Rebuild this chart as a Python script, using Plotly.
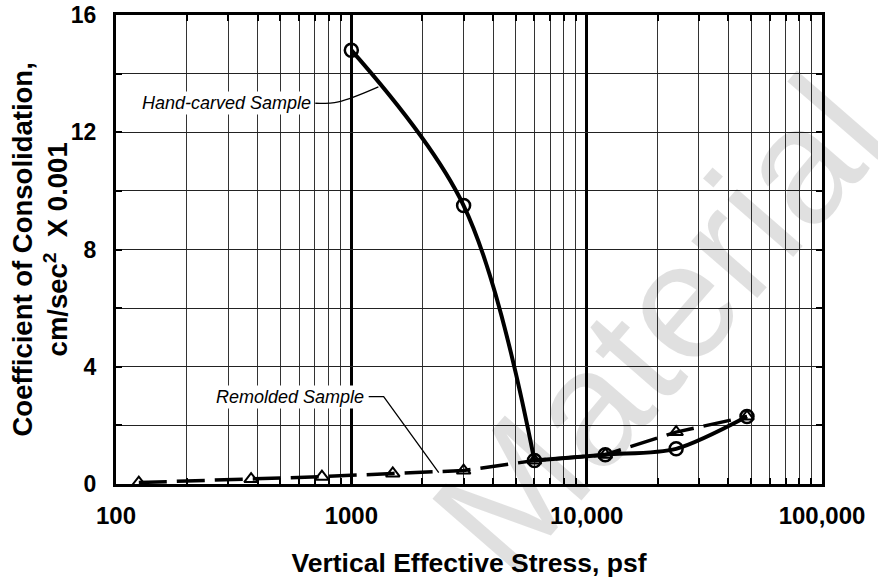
import math
import plotly.graph_objects as go

# ---- data ----
hand_stress = [1000, 3000, 6000, 12000, 24000, 48000]
hand_cv = [14.8, 9.5, 0.8, 1.0, 1.2, 2.3]

remold_stress = [125, 375, 750, 1500, 3000, 6000, 12000, 24000, 48000]
remold_cv = [0.05, 0.17, 0.25, 0.36, 0.46, 0.8, 1.0, 1.77, 2.3]

x_major_vals = [100, 1000, 10000, 100000]
x_major_text = ["100", "1000", "10,000", "100,000"]
x_minor_vals = [m * d for d in (100, 1000, 10000) for m in range(2, 10)]

y_major_vals = [0, 4, 8, 12, 16]
y_major_text = ["0", "4", "8", "12", "16"]
y_minor_vals = [2, 6, 10, 14]

hand_label = "Hand-carved Sample"
remold_label = "Remolded Sample"
hand_leader_x = [703, 881, 1303]
hand_leader_y = [12.99, 13.04, 13.55]
remold_leader_x = [1185, 1372, 2352]
remold_leader_y = [2.98, 2.98, 0.39]

y_title = "<b>Coefficient of Consolidation,<br>cm/sec<sup>2</sup>&nbsp; X 0.001</b>"
x_title = "<b>Vertical Effective Stress, psf</b>"

FONT = "Liberation Sans, Arial, Helvetica, sans-serif"

fig = go.Figure()

# leader lines
fig.add_trace(go.Scatter(x=hand_leader_x, y=hand_leader_y, mode="lines",
                         line=dict(color="black", width=1.3, shape="spline"),
                         hoverinfo="skip", showlegend=False))
fig.add_trace(go.Scatter(x=remold_leader_x, y=remold_leader_y, mode="lines",
                         line=dict(color="black", width=1.3),
                         hoverinfo="skip", showlegend=False))

# remolded sample (dashed, triangles)
fig.add_trace(go.Scatter(x=remold_stress, y=remold_cv, mode="lines+markers",
                         line=dict(color="black", width=3.5, dash="28px,10px"),
                         marker=dict(symbol="triangle-up-open", size=12,
                                     color="black", line=dict(width=2, color="black")),
                         name=remold_label, showlegend=False))

# hand-carved sample: two smooth pieces meeting at the sharp corner
fig.add_trace(go.Scatter(x=hand_stress[:3], y=hand_cv[:3], mode="lines",
                         line=dict(color="black", width=4, shape="spline", smoothing=1.0),
                         showlegend=False, hoverinfo="skip"))
fig.add_trace(go.Scatter(x=hand_stress[2:], y=hand_cv[2:], mode="lines",
                         line=dict(color="black", width=4, shape="spline", smoothing=0.8),
                         showlegend=False, hoverinfo="skip"))
fig.add_trace(go.Scatter(x=hand_stress, y=hand_cv, mode="markers",
                         marker=dict(symbol="circle-open", size=13, color="black",
                                     line=dict(width=2.5, color="black")),
                         name=hand_label, showlegend=False))

fig.update_layout(
    width=878, height=579,
    margin=dict(l=116, r=56, t=15, b=95),
    plot_bgcolor="white", paper_bgcolor="white",
    font=dict(family=FONT, color="black"),
    showlegend=False,
    xaxis=dict(
        type="log", range=[2, 5], automargin=False,
        tickmode="array", tickvals=x_major_vals, ticktext=x_major_text,
        tickfont=dict(family=FONT, size=24, color="black", weight="bold"),
        ticks="inside", ticklen=6, tickwidth=2, tickcolor="black",
        ticklabelstandoff=8,
        showgrid=True, gridcolor="black", gridwidth=3,
        minor=dict(tickmode="array", tickvals=x_minor_vals, showgrid=True,
                   gridcolor="#333333", gridwidth=1, ticks="inside",
                   ticklen=6, tickwidth=2, tickcolor="black"),
        showline=True, linecolor="black", linewidth=3, mirror="ticks",
        zeroline=False,
        title=dict(text=x_title,
                   font=dict(family=FONT, size=26.5, color="black"), standoff=26),
    ),
    yaxis=dict(
        range=[0, 16], automargin=False,
        tickmode="array", tickvals=y_major_vals, ticktext=y_major_text,
        tickfont=dict(family=FONT, size=23, color="black", weight="bold"),
        ticks="inside", ticklen=6, tickwidth=2, tickcolor="black",
        ticklabelstandoff=12,
        showgrid=True, gridcolor="#222222", gridwidth=1,
        minor=dict(tickmode="array", tickvals=y_minor_vals, showgrid=True,
                   gridcolor="#222222", gridwidth=1, ticks="inside",
                   ticklen=6, tickwidth=2, tickcolor="black"),
        showline=True, linecolor="black", linewidth=3, mirror="ticks",
        zeroline=False,
    ),
)

# y-axis title (placed as a rotated annotation for exact position)
fig.add_annotation(x=(40 - 116) / 706, y=0.5, xref="paper", yref="paper",
                   xanchor="center", yanchor="middle", textangle=-90,
                   text=y_title, showarrow=False,
                   font=dict(family=FONT, size=27.5, color="black"))

# labels for the curves
fig.add_annotation(x=math.log10(296), y=12.99, xref="x", yref="y",
                   text="<i>" + hand_label + "</i>", showarrow=False,
                   font=dict(family=FONT, size=18, color="black"),
                   bgcolor="white", borderpad=1)
fig.add_annotation(x=math.log10(550), y=2.98, xref="x", yref="y",
                   text="<i>" + remold_label + "</i>", showarrow=False,
                   font=dict(family=FONT, size=18, color="black"),
                   bgcolor="white", borderpad=1)

# watermark
fig.add_annotation(x=0.768, y=0.34, xref="paper", yref="paper",
                   xanchor="center", yanchor="middle",
                   text="Material", showarrow=False, textangle=-49,
                   font=dict(family=FONT, size=165, color="rgba(0,0,0,0.12)"))

fig.write_html("out.html")
